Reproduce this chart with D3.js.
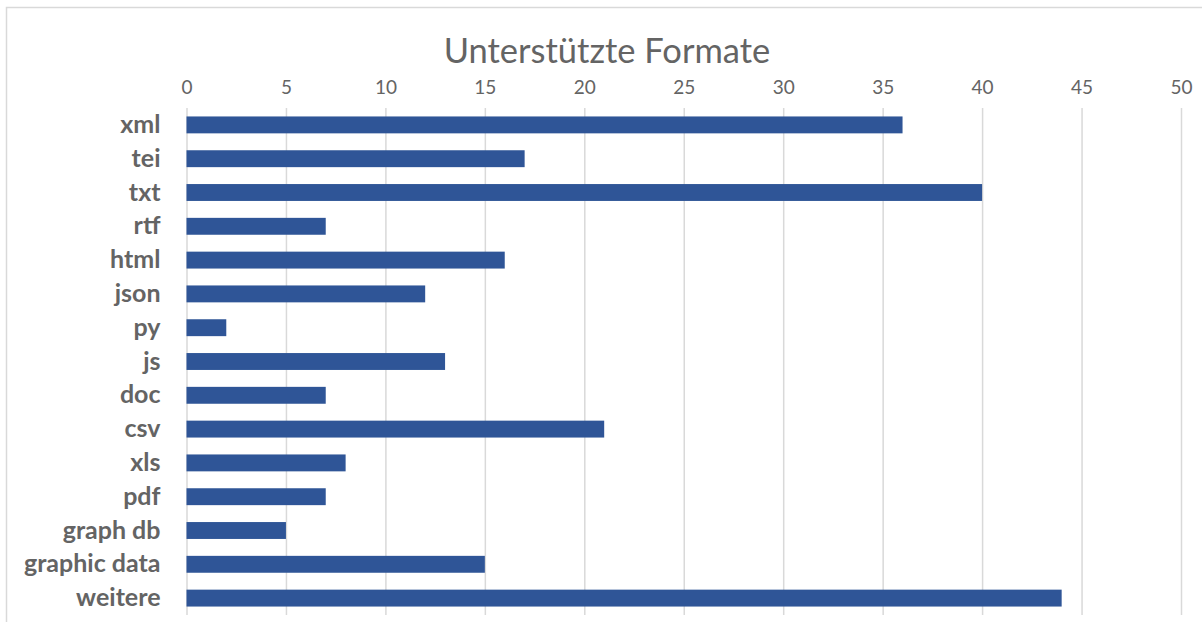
<!DOCTYPE html>
<html><head><meta charset="utf-8">
<script src="https://cdn.jsdelivr.net/npm/d3@7"></script>
<style>body{margin:0;background:#fff}svg{display:block}</style>
</head><body>
<svg id="c" width="1202" height="622"></svg>
<script>
const title = "Unterstützte Formate";
const categories = ["xml","tei","txt","rtf","html","json","py","js","doc","csv","xls","pdf","graph db","graphic data","weitere"];
const values = [36,17,40,7,16,12,2,13,7,21,8,7,5,15,44];
const xTicks = [0,5,10,15,20,25,30,35,40,45,50];

const svg = d3.select("#c");
const ff = "Lato, 'Open Sans', sans-serif";
const pLeft = 186.5, pRight = 1181, pTop = 108, pBottom = 615;

svg.append("rect").attr("x",6.5).attr("y",7.5).attr("width",1300).attr("height",700)
  .attr("fill","#fff").attr("stroke","#d9d9d9").attr("stroke-width",1.5);

const x = d3.scaleLinear().domain([0,50]).range([pLeft,pRight]);
const y = d3.scaleBand().domain(categories).range([pTop,pBottom]).paddingInner(0.5).paddingOuter(0.25);

const gx = svg.append("g").attr("transform",`translate(0,${pTop})`)
  .call(d3.axisTop(x).tickValues(xTicks).tickSize(-(pBottom-pTop)).tickPadding(14));
gx.select(".domain").remove();
gx.selectAll(".tick line").attr("stroke","#d9d9d9").attr("stroke-width",1.5);
gx.selectAll(".tick text").attr("fill","#646464").attr("font-family",ff).attr("font-size",19);

svg.append("g").selectAll("rect").data(values).join("rect")
  .attr("x",x(0)).attr("y",(d,i)=>y(categories[i]))
  .attr("width",d=>x(d)-x(0)).attr("height",y.bandwidth())
  .attr("fill","#2f5597");

const gy = svg.append("g").attr("transform",`translate(${pLeft},0)`)
  .call(d3.axisLeft(y).tickSize(0).tickPadding(26));
gy.select(".domain").remove();
gy.selectAll(".tick text").attr("fill","#646464").attr("font-family",ff)
  .attr("font-size",25).attr("font-weight","bold");

svg.append("text").attr("x",607).attr("y",62.5).attr("text-anchor","middle")
  .attr("fill","#646464").attr("font-family",ff).attr("font-size",34.5).text(title);
</script>
</body></html>
